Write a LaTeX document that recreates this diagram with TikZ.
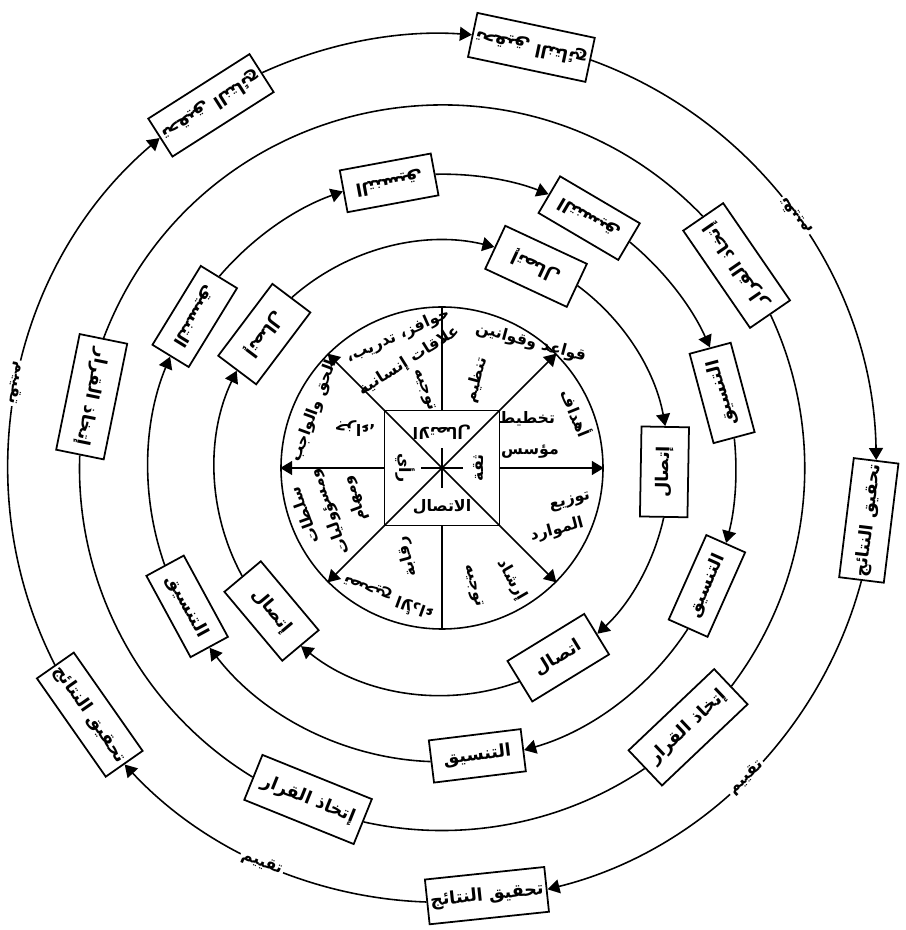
\documentclass[tikz,border=0pt]{standalone}
\usepackage{fontspec}
\newfontfamily\arabicfont[Script=Arabic]{DejaVu Sans}
\TeXXeTstate=1
\newcommand\artext[1]{\beginR #1\endR}
\usepackage{tikz}
\usetikzlibrary{arrows.meta}

\begin{document}
\begin{tikzpicture}[>={Triangle[length=2.4mm,width=2.8mm]},line width=0.9pt,
 font=\arabicfont\bfseries\fontsize{10}{12}\selectfont,
 box/.style={draw,fill=white,inner sep=0pt,line width=1pt},
 boxa/.style={box,minimum width=1.8cm,minimum height=0.95cm},
 boxb/.style={box,minimum width=1.85cm,minimum height=0.85cm},
 boxc/.style={box,minimum width=2.36cm,minimum height=0.97cm},
 boxd/.style={box,minimum width=2.4cm,minimum height=0.9cm},
 tag/.style={fill=white,inner sep=1pt,font=\arabicfont\bfseries\fontsize{9}{11}\selectfont},
 word/.style={inner sep=0pt,font=\arabicfont\bfseries\fontsize{9}{11}\selectfont}]
\useasboundingbox (-8.84,-9.24) rectangle (9.26,9.36);

% wheel
\node[draw,circle,minimum size=6.44cm,inner sep=0pt] (disk) at (0,0) {};
\node[draw,minimum size=2.3cm,inner sep=0pt] (sq) at (0,0) {};
\draw (sq.north west) -- (sq.south east);
\draw (sq.north east) -- (sq.south west);
\draw (-0.42,0) -- (0.42,0);
\draw (0,-0.4) -- (0,0.4);
\draw (sq.north) -- (disk.north);
\draw (sq.south) -- (disk.south);
\draw[->] (sq.east) -- (disk.east);
\draw[->] (sq.west) -- (disk.west);
\draw[->] (sq.north east) -- (disk.north east);
\draw[->] (sq.south east) -- (disk.south east);
\draw[->] (sq.south west) -- (disk.south west);
\draw[->] (sq.north west) -- (disk.north west);

\node[word,rotate=180] (cn) at (0,0.72) {\artext{الاتصال}};
\node[word,rotate=90] (ce) at (0.72,0) {\artext{ثقة}};
\node[word,rotate=-90] (cw) at (-0.74,0) {\artext{رأي}};
\node[word] (cs) at (0,-0.78) {\artext{الاتصال}};

\node[word,rotate=-15] (s1a) at (1.78,2.5) {\artext{قواعد وقوانين}};
\node[word,rotate=75] (s1b) at (0.7,1.76) {\artext{تنظيم}};
\node[word,rotate=-68] (s2a) at (2.7,1.1) {\artext{أهداف}};
\node[word] (s2b) at (1.7,0.98) {\artext{تخطيط}};
\node[word] (s2c) at (1.76,0.32) {\artext{مؤسس}};
\node[word,rotate=15] (s3a) at (2.56,-0.68) {\artext{توزيع}};
\node[word,rotate=15] (s3b) at (2.3,-1.24) {\artext{الموارد}};
\node[word,rotate=-60] (s4a) at (1.4,-2.24) {\artext{إرشاد}};
\node[word,rotate=-75] (s4b) at (0.62,-2.36) {\artext{توجيه}};
\node[word,rotate=160] (s5a) at (-1.08,-2.6) {\artext{تصحيح الأداء}};
\node[word,rotate=105] (s5b) at (-0.7,-1.78) {\artext{رقابة}};
\node[word,rotate=110] (s6a) at (-2.76,-0.96) {\artext{سلطات}};
\node[word,rotate=110] (s6b) at (-2.24,-0.88) {\artext{ومسؤوليات}};
\node[word,rotate=110] (s6c) at (-1.74,-0.62) {\artext{ومهام}};
\node[word,rotate=70] (s7a) at (-2.56,1.14) {\artext{الحق والواجب}};
\node[word,rotate=180] (s7b) at (-1.74,0.78) {\artext{جزاء،}};
\node[word,rotate=24] (s8a) at (-0.88,2.64) {\artext{حوافز، تدريب،}};
\node[word,rotate=32] (s8b) at (-0.66,2.14) {\artext{علاقات إنسانية}};
\node[word,rotate=-70] (s8c) at (-0.36,1.56) {\artext{توجيه}};

% ring 1
\node[boxa,rotate=155] (p1) at (65:4.45) {\artext{إتصال}};
\node[boxa,rotate=89] (p2) at (-1:4.45) {\artext{إتصال}};
\node[boxa,rotate=31.5] (p3) at (-58.5:4.45) {\artext{اتصال}};
\node[boxa,rotate=-50] (p4) at (-140:4.45) {\artext{إتصال}};
\node[boxa,rotate=233] (p5) at (143:4.45) {\artext{إتصال}};
\draw[->] (p1.west) to[out=-36.4,in=100.4,looseness=.88] (p2.east);
\draw[->] (p2.west) to[out=-102.4,in=42.9,looseness=.87] (p3.east);
\draw[->] (p3.west) to[out=-159.9,in=-38.6,looseness=.91] (p4.east);
\draw[->] (p4.west) to[out=118.6,in=-115.6,looseness=.9] (p5.east);
\draw[->] (p5.west) to[out=41.6,in=166.4,looseness=.9] (p1.east);

% ring 2
\node[boxb,rotate=190.5] (q1) at (100.5:5.8) {\artext{التنسيق}};
\node[boxb,rotate=149.5] (q2) at (59.5:5.8) {\artext{التنسيق}};
\node[boxb,rotate=105] (q3) at (15:5.8) {\artext{التنسيق}};
\node[boxb,rotate=66] (q4) at (-24:5.8) {\artext{التنسيق}};
\node[boxb,rotate=7] (q5) at (-83:5.8) {\artext{التنسيق}};
\node[boxb,rotate=-61.5] (q6) at (-151.5:5.8) {\artext{التنسيق}};
\node[boxb,rotate=238.5] (q7) at (148.5:5.8) {\artext{التنسيق}};
\draw[->] (q1.west) to[out=1.44,in=158.56,looseness=.86] (q2.east);
\draw[->] (q2.west) to[out=-39.56,in=114.06,looseness=.86] (q3.east);
\draw[->] (q3.west) to[out=-84.06,in=75.06,looseness=.86] (q4.east);
\draw[->] (q4.west) to[out=-123.06,in=16.06,looseness=.88] (q5.east);
\draw[->] (q5.west) to[out=177.94,in=-52.44,looseness=.89] (q6.east);
\draw[->] (q6.west) to[out=109.44,in=-112.44,looseness=.88] (q7.east);
\draw[->] (q7.west) to[out=49.44,in=199.56,looseness=.87] (q1.east);

% ring 3
\node[boxc,rotate=124.5] (r1) at (34.5:7.15) {\artext{إتخاذ القرار}};
\node[boxc,rotate=43.5] (r2) at (-46.5:7.15) {\artext{إتخاذ القرار}};
\node[boxc,rotate=-22] (r3) at (-112:7.15) {\artext{إتخاذ القرار}};
\node[boxc,rotate=258.5] (r4) at (168.5:7.15) {\artext{إتخاذ القرار}};
\draw (r1.west) to[out=-64.87,in=52.87,looseness=.92] (r2.east);
\draw (r2.west) to[out=-145.87,in=-12.63,looseness=.885] (r3.east);
\draw (r3.west) to[out=148.63,in=-92.13,looseness=.91] (r4.east);
\draw (r4.west) to[out=69.13,in=133.87,looseness=1.11] (r1.east);

% ring 4
\node[boxd,rotate=168] (t1) at (78:8.6) {\artext{تحقيق النتائج}};
\node[boxd,rotate=212.5] (t2) at (122.5:8.6) {\artext{تحقيق النتائج}};
\node[boxd,rotate=83] (t3) at (-7:8.6) {\artext{تحقيق النتائج}};
\node[boxd,rotate=6] (t4) at (-84:8.6) {\artext{تحقيق النتائج}};
\node[boxd,rotate=-55] (t5) at (-145:8.6) {\artext{تحقيق النتائج}};
\draw[->] (t1.west) to[out=-19.94,in=90.94,looseness=.935]
  node[tag,pos=.5,rotate=124.5] (v1) {\artext{تقييم}} (t3.east);
\draw[->] (t3.west) to[out=-104.94,in=13.94,looseness=.915]
  node[tag,pos=.5,rotate=43.5] (v2) {\artext{تقييم}} (t4.east);
\draw[->] (t4.west) to[out=178.06,in=-47.06,looseness=.885]
  node[tag,pos=.5,rotate=-22] (v3) {\artext{تقييم}} (t5.east);
\draw[->] (t5.west) to[out=117.06,in=-139.56,looseness=.95]
  node[tag,pos=.5,rotate=258.5] (v4) {\artext{تقييم}} (t2.east);
\draw[->] (t2.west) to[out=24.56,in=175.94,looseness=.865] (t1.east);
\end{tikzpicture}
\end{document}
